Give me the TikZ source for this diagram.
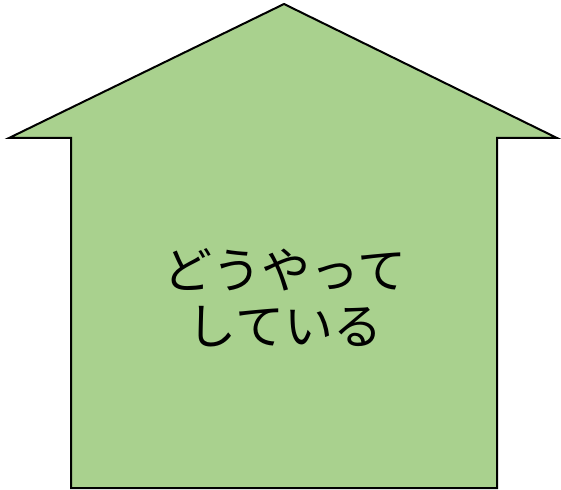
\documentclass[tikz,border=0pt]{standalone}
\usepackage{fontspec}
\usepackage{xcolor}
\newfontfamily\jpfont{Noto Sans CJK JP}
\definecolor{housegreen}{HTML}{A9D18E}

\begin{document}
\begin{tikzpicture}[x=1pt, y=-1pt]
    \useasboundingbox (0,0) rectangle (561,489);
    \filldraw[fill=housegreen, line width=2pt, line join=miter]
        (284,4) -- (557,138) -- (497,138) -- (497,488) -- (71,488) -- (71,138) -- (9,138) -- cycle;
    \node[align=center, font=\jpfont\fontsize{49}{56}\selectfont] (label) at (285,298) {どうやって\\している};
\end{tikzpicture}
\end{document}
